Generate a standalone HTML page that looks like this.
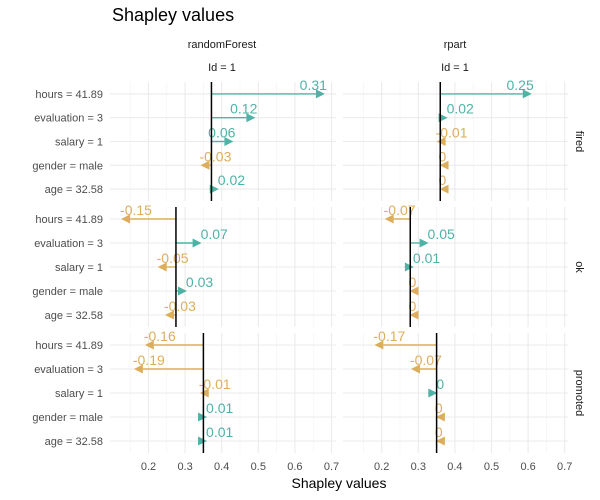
<!DOCTYPE html>
<html><head><meta charset="utf-8"><style>
body{margin:0;background:#fff;}
svg{font-family:"Liberation Sans",sans-serif;display:block;}
</style></head><body>
<svg id="chart" width="600" height="500">
<text x="112" y="21" font-size="18" fill="#000">Shapley values</text>
<text x="222" y="48" font-size="11" text-anchor="middle" fill="#1a1a1a">randomForest</text>
<text x="222" y="71" font-size="11" text-anchor="middle" fill="#1a1a1a">Id = 1</text>
<text x="455" y="48" font-size="11" text-anchor="middle" fill="#1a1a1a">rpart</text>
<text x="455" y="71" font-size="11" text-anchor="middle" fill="#1a1a1a">Id = 1</text>
<text x="339" y="488" font-size="14" text-anchor="middle" fill="#000">Shapley values</text>
<g id="plot"></g>
</svg>
<script>
const categories = ["hours = 41.89","evaluation = 3","salary = 1","gender = male","age = 32.58"];
const models = ["randomForest","rpart"];
const classes = ["fired","ok","promoted"];
const xTicks = [0.2,0.3,0.4,0.5,0.6,0.7];
const intercepts = [[0.372,0.36],[0.275,0.278],[0.35,0.35]];
const rfFired = [0.31,0.12,0.06,-0.03,0.02];
const rfOk = [-0.15,0.07,-0.05,0.03,-0.03];
const rfPromoted = [-0.16,-0.19,-0.01,0.01,0.01];
const rpFired = [0.25,0.02,-0.01,-0.002,-0.002];
const rpOk = [-0.07,0.05,0.01,-0.002,-0.002];
const rpPromoted = [-0.17,-0.07,0.002,-0.002,-0.002];
const values = [[rfFired,rpFired],[rfOk,rpOk],[rfPromoted,rpPromoted]];

const NS="http://www.w3.org/2000/svg";
const g=document.getElementById('plot');
const panelX=[[110,336],[343,568]];
const panelY=[[82,201],[207,327],[333,453]];
function xScale(col,v){return (col===0?148.5:381.7)+(v-0.2)*366;}
function yScale(row,i){const [t,b]=panelY[row];const step=(b-t)/5;return t+step*(i+0.5);}
function mk(tag,attrs){const e=document.createElementNS(NS,tag);for(const k in attrs)e.setAttribute(k,attrs[k]);g.appendChild(e);return e;}
const teal="#4db3a5",gold="#dcae5c";
for(let r=0;r<3;r++){
  for(let c=0;c<2;c++){
    const [x0,x1]=panelX[c],[y0,y1]=panelY[r];
    for(let v=0.15;v<=0.751;v+=0.1){const x=xScale(c,v);if(x<x0||x>x1)continue;
      const l=mk('line',{x1:x,x2:x,y1:y0,y2:y1,stroke:"#f2f2f2","stroke-width":0.6});
      
      }
    xTicks.forEach(v=>{const x=xScale(c,v);
      const l=mk('line',{x1:x,x2:x,y1:y0,y2:y1,stroke:"#ebebeb","stroke-width":1.1});
      
      
      if(r===2){const t=mk('text',{x:x,y:470,"font-size":11,"text-anchor":"middle",fill:"#4d4d4d"});t.textContent=v.toFixed(1);
      
      }
    });
    categories.forEach((cat,i)=>{const y=yScale(r,i);
      const l=mk('line',{x1:x0,x2:x1,y1:y,y2:y,stroke:"#ebebeb","stroke-width":1.1});
      
      
      if(c===0){const t=mk('text',{x:103,y:y+4,"font-size":11,"text-anchor":"end",fill:"#4d4d4d"});t.textContent=cat;
      
      }
    });
  }
  const st=mk('text',{transform:`translate(576,${(panelY[r][0]+panelY[r][1])/2}) rotate(90)`,"font-size":11,"text-anchor":"middle",fill:"#1a1a1a"});
  st.textContent=classes[r];
  
  
}
for(let r=0;r<3;r++){for(let c=0;c<2;c++){
  const b=intercepts[r][c];const xb=xScale(c,b);
  const vals=values[r][c];
  vals.forEach((v,i)=>{
    const y=yScale(r,i);const xe=xScale(c,b+v);const col=v>=0?teal:gold;const dir=v>=0?1:-1;
    const base=xe-dir*9;
    const ln=mk('line',{x1:xb,x2:base,y1:y,y2:y,stroke:col,"stroke-width":1.4});
    
    
    const tri=mk('polygon',{points:`${xe},${y} ${base},${y-4.5} ${base},${y+4.5}`,fill:col});
    
    
    let lab=Math.round(v*100)/100;let s=lab===0?"0":lab.toFixed(2);
    const endAnchor=(r===0&&v>=0.06);
    const t=mk('text',{x:endAnchor?xe+2:xe-1,y:y-4,"font-size":14,"text-anchor":endAnchor?"end":"start",fill:col});
    t.textContent=s;
    
    
  });
  const il=mk('line',{x1:xb,x2:xb,y1:panelY[r][0],y2:panelY[r][1],stroke:"#000","stroke-width":1.5});
  
  
}}
</script>
</body></html>
